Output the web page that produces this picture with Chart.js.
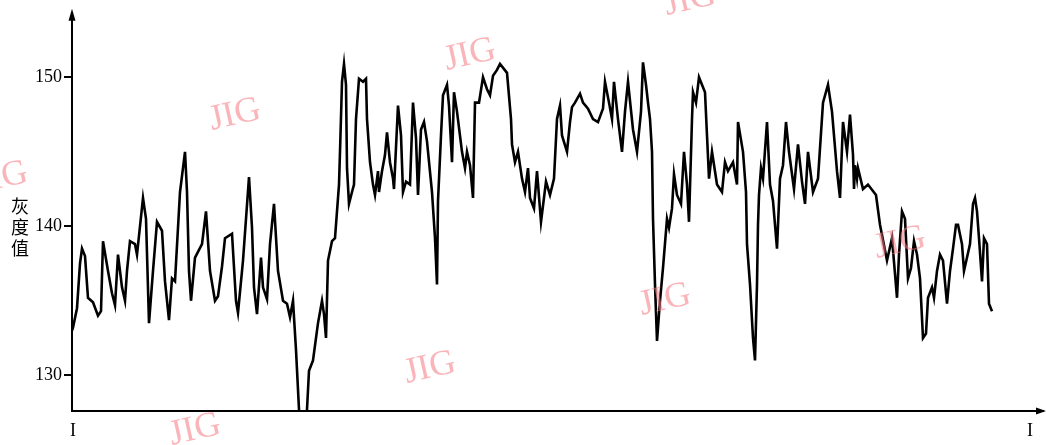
<!DOCTYPE html>
<html><head><meta charset="utf-8">
<script src="https://cdn.jsdelivr.net/npm/chart.js@4.4.1/dist/chart.umd.min.js"></script>
<style>html,body{margin:0;padding:0;background:#fff;}#wrap{width:1046px;height:445px;position:relative;}</style>
</head><body><div id="wrap"><canvas id="c" width="1046" height="445"></canvas></div>
<script>
// sample position along profile I–I
const positions = [0,1,5,8,10,13,16,21,26,29,31,36,40,43,46,50,53,55,58,63,65,71,74,77,81,85,90,93,97,100,103,108,113,115,117,119,123,130,134,138,143,146,150,153,160,164,166,171,177,180,182,185,189,191,195,198,202,206,211,215,218,221,224,227,230,234,235,237,241,246,250,252,254,256,260,263,267,268,270,272,274,275,277,280,282,284,287,291,294,295,298,301,303,306,307,310,313,315,318,321,322,326,329,331,334,338,341,344,346,349,352,355,360,363,365,366,369,371,375,377,380,382,385,390,393,395,398,401,403,407,411,415,418,421,425,428,435,439,440,443,446,450,453,456,458,462,465,469,474,478,482,485,488,490,495,498,500,503,508,511,516,521,526,531,533,537,540,542,546,550,553,556,561,565,569,571,574,576,578,580,581,583,585,588,591,595,597,600,602,605,609,612,615,617,620,621,624,627,633,635,637,640,645,650,653,656,661,665,666,671,674,675,678,681,683,685,686,687,689,691,695,698,701,705,708,711,714,717,722,726,730,733,736,741,746,751,756,760,765,768,771,775,778,781,782,783,785,786,791,796,804,808,815,820,825,827,830,833,836,839,842,845,848,851,854,856,860,862,865,868,871,875,878,881,884,886,890,892,898,901,903,905,907,910,912,915,917,920,922,924,925];
// grey value (灰度值)
const greyValues = [133.0,133.2,134.5,137.5,138.5,138.0,135.2,134.9,134.0,134.3,139.0,137.0,135.5,134.7,138.1,135.9,135.0,137.0,139.0,138.8,138.1,141.9,140.5,133.5,137.0,140.3,139.7,136.3,133.7,136.5,136.3,142.3,145.0,142.3,137.0,135.0,137.9,138.8,141.0,137.0,135.0,135.3,137.3,139.2,139.5,135.0,134.2,137.7,143.3,139.9,135.9,134.1,137.9,135.9,135.1,138.8,141.5,137.0,135.0,134.8,133.9,135.0,131.7,127.7,126.7,126.7,127.7,130.3,131.0,133.5,135.0,134.1,132.5,137.7,139.0,139.2,142.8,145.0,149.7,150.9,149.5,143.9,141.5,142.3,142.8,147.2,149.9,149.7,149.9,147.2,144.3,142.8,142.1,143.7,142.3,143.7,144.8,146.3,144.3,143.2,142.5,148.1,146.1,142.3,143.0,142.8,148.3,145.9,142.1,146.5,147.0,145.7,142.3,139.2,136.1,141.7,146.1,148.8,149.5,148.1,144.3,149.0,147.7,145.0,143.9,145.0,144.1,141.9,148.3,148.3,150.0,149.2,148.8,150.1,150.5,150.9,150.3,147.2,145.5,144.3,145.0,143.2,142.3,143.9,141.9,141.2,143.7,140.3,143.0,142.1,143.2,147.2,148.1,146.1,145.0,147.0,148.0,148.3,148.9,148.3,147.9,147.2,147.0,147.9,149.7,148.3,147.2,149.7,147.2,145.0,147.7,149.7,146.5,145.0,147.7,151.0,149.5,148.3,147.2,145.0,140.5,136.1,132.3,135.0,137.2,140.5,139.9,141.2,143.5,142.1,141.5,145.0,142.8,140.3,147.2,149.0,148.3,150.0,149.0,146.1,143.2,145.0,142.8,142.3,144.3,143.7,144.3,142.8,147.0,145.0,142.3,138.8,136.1,132.5,131.0,136.1,140.1,142.1,143.9,143.2,147.0,142.8,141.7,138.5,143.2,144.1,147.0,145.0,142.5,145.5,143.0,141.5,145.0,142.3,143.2,148.3,149.5,147.7,143.7,141.9,147.0,145.0,147.5,144.8,142.5,144.1,143.2,143.9,142.5,142.8,142.1,140.1,137.7,139.2,135.2,138.1,141.0,140.5,136.5,137.2,139.0,138.1,136.5,132.5,132.8,135.2,135.9,135.2,137.0,138.1,137.7,134.8,137.0,138.5,140.1,140.1,138.8,137.0,138.8,141.5,141.9,141.0,139.2,136.3,139.2,138.8,134.8,134.3];
const yTickValues = [130, 140, 150];
const xTickPositions = [1, 958];
const xTickLabel = 'I';
const yTitle = ['灰', '度', '值'];
const watermark = 'JIG';

const points = positions.map((p, i) => ({x: p, y: greyValues[i]}));

const decor = {
  id: 'decor',
  afterDraw(chart) {
    const ctx = chart.ctx;
    const a = chart.chartArea;
    ctx.save();
    ctx.fillStyle = '#000';
    // y arrow
    ctx.beginPath();
    ctx.moveTo(a.left, a.top - 4);
    ctx.lineTo(a.left - 3.5, a.top + 8);
    ctx.lineTo(a.left + 3.5, a.top + 8);
    ctx.closePath(); ctx.fill();
    // x axis extension + arrow
    ctx.fillRect(a.right, a.bottom - 1, 4, 2);
    ctx.beginPath();
    ctx.moveTo(a.right + 6, a.bottom);
    ctx.lineTo(a.right - 4, a.bottom - 3.5);
    ctx.lineTo(a.right - 4, a.bottom + 3.5);
    ctx.closePath(); ctx.fill();
    // y title, stacked
    ctx.font = '18px "Noto Sans CJK SC"';
    ctx.textAlign = 'center'; ctx.textBaseline = 'middle';
    yTitle.forEach((ch, i) => ctx.fillText(ch, 20, 206 + i * 21));
    // watermarks
    ctx.fillStyle = 'rgba(245,120,130,0.55)';
    ctx.font = '36px "Liberation Serif"';
    [[470,55],[235,115],[2,178],[690,0],[665,300],[430,368],[195,430],[900,243]].forEach(([x,y]) => {
      ctx.save(); ctx.translate(x, y); ctx.rotate(-0.22);
      ctx.fillText(watermark, 0, 0); ctx.restore();
    });
    ctx.restore();
  }
};

new Chart(document.getElementById('c'), {
  type: 'line',
  data: { datasets: [{ data: points, borderColor: '#000', borderWidth: 2.6, pointRadius: 0, tension: 0, fill: false }] },
  options: {
    responsive: false, animation: false,
    layout: { padding: { top: 10, right: 6, left: 0, bottom: 0 } },
    plugins: { legend: { display: false }, tooltip: { enabled: false } },
    scales: {
      x: {
        type: 'linear', min: 0, max: 968,
        afterBuildTicks(s) { s.ticks = xTickPositions.map(v => ({value: v})); },
        afterFit(s) { s.height = 34; },
        ticks: { callback: () => xTickLabel, color: '#000', font: { family: 'Liberation Serif', size: 18 }, padding: 9, maxRotation: 0, autoSkip: false },
        grid: { display: false, drawTicks: false },
        border: { display: true, color: '#000', width: 2 }
      },
      y: {
        type: 'linear', min: 127.6, max: 154.33,
        afterBuildTicks(s) { s.ticks = yTickValues.map(v => ({value: v})); },
        afterFit(s) { s.width = 72; },
        ticks: { color: '#000', font: { family: 'Liberation Serif', size: 18 }, padding: 2 },
        grid: { display: true, drawOnChartArea: false, drawTicks: true, tickLength: 8, color: '#000', lineWidth: 2 },
        border: { display: true, color: '#000', width: 2 }
      }
    }
  },
  plugins: [decor]
});
</script></body></html>
